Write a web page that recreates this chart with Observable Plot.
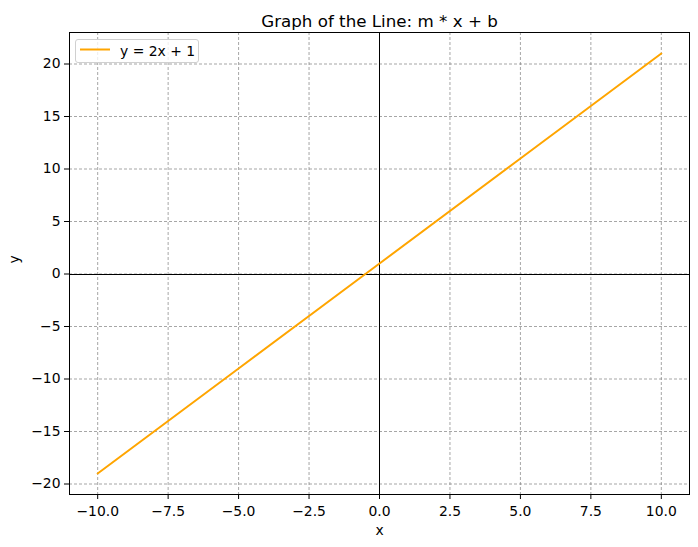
<!DOCTYPE html>
<html><head><meta charset="utf-8">
<script src="https://cdn.jsdelivr.net/npm/d3@7"></script>
<script src="https://cdn.jsdelivr.net/npm/@observablehq/plot@0.6"></script>
<style>
body{margin:0;background:#fff;font-family:"DejaVu Sans",sans-serif}
#wrap{position:relative;width:698px;height:547px}
#legend{position:absolute;left:75px;top:39px;width:124px;height:24px;border:1px solid #d0d0d0;border-radius:3px;background:rgba(255,255,255,0.8);box-sizing:border-box}
#legend svg{position:absolute;left:0;top:0}
#legend span{position:absolute;left:44px;top:3px;font-size:13.9px;color:#000;white-space:nowrap}
</style>
</head><body><div id="wrap"><div id="chart"></div>
<div id="legend"><svg width="40" height="22"><line x1="4" x2="34" y1="9.5" y2="9.5" stroke="orange" stroke-width="2"/></svg><span id="legtext"></span></div></div>
<script>
const xValues = [-10, -5, 0, 5, 10];
const yValues = [-19, -9, 1, 11, 21];
const xTicks = [-10, -7.5, -5, -2.5, 0, 2.5, 5, 7.5, 10];
const yTicks = [-20, -15, -10, -5, 0, 5, 10, 15, 20];
const titleText = "Graph of the Line: m * x + b";
const seriesLabel = "y = 2x + 1";
const xLabel = "x";
const yLabel = "y";

const data = xValues.map((x, i) => ({x, y: yValues[i]}));
const fmtX = d3.format(".1f");
const fmtY = d3.format("d");

const chart = Plot.plot({
  width: 698,
  height: 547,
  marginLeft: 69,
  marginRight: 9,
  marginTop: 32,
  marginBottom: 53,
  style: {fontFamily: "DejaVu Sans, sans-serif", fontSize: "13.9px", background: "#fff", color: "#000"},
  x: {domain: [-11, 11]},
  y: {domain: [-21, 23]},
  marks: [
    Plot.gridX(xTicks, {stroke: "#808080", strokeOpacity: 1, strokeWidth: 0.7, strokeDasharray: "3,2"}),
    Plot.gridY(yTicks, {stroke: "#808080", strokeOpacity: 1, strokeWidth: 0.7, strokeDasharray: "3,2"}),
    Plot.ruleX([0], {stroke: "black", strokeWidth: 1, shapeRendering: "crispEdges"}),
    Plot.ruleY([0], {stroke: "black", strokeWidth: 1, shapeRendering: "crispEdges"}),
    Plot.line(data, {x: "x", y: "y", stroke: "orange", strokeWidth: 2}),
    Plot.frame({stroke: "black", strokeWidth: 1}),
    Plot.axisX(xTicks, {tickFormat: fmtX, tickSize: 5, tickPadding: 7, label: null, fontSize: "13.9px"}),
    Plot.axisY(yTicks, {tickFormat: fmtY, tickSize: 5, tickPadding: 4, label: null, fontSize: "13.9px"}),
    Plot.text([xLabel], {text: d => d, frameAnchor: "bottom", dy: 40, fontSize: 13.9}),
    Plot.text([yLabel], {text: d => d, frameAnchor: "left", dx: -55, rotate: -90, fontSize: 13.9}),
    Plot.text([titleText], {text: d => d, frameAnchor: "top", dy: -17, fontSize: 16.7})
  ]
});
document.getElementById("chart").appendChild(chart);
document.getElementById("legtext").textContent = seriesLabel;
</script>
</body></html>
